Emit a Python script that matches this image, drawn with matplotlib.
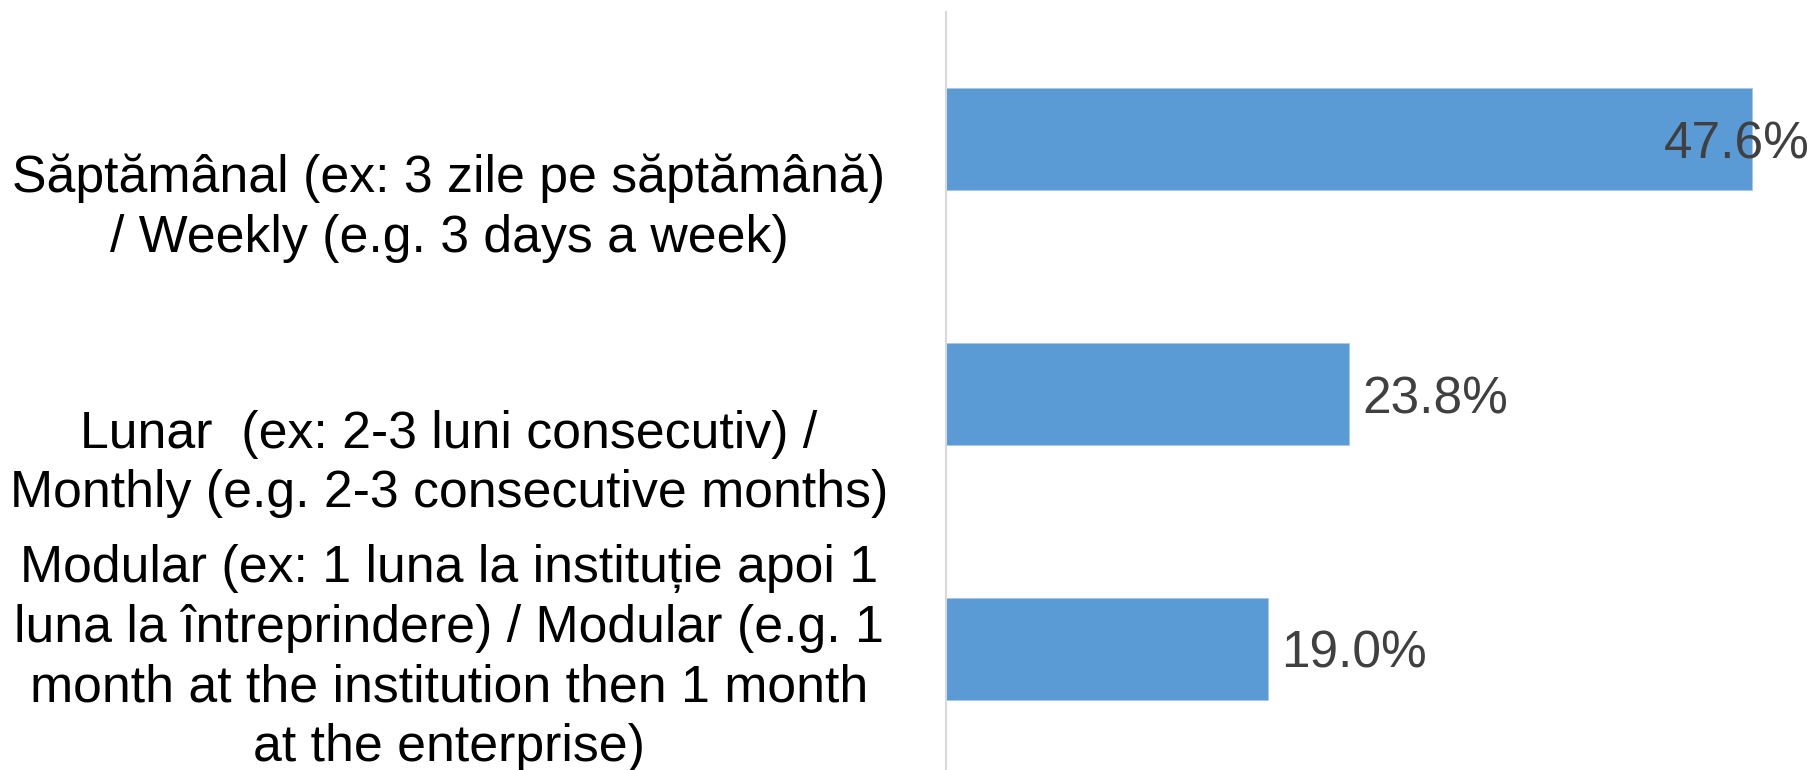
import matplotlib

matplotlib.use("Agg")
import matplotlib.pyplot as plt
import matplotlib.transforms as mtransforms

plt.rcParams["font.family"] = ["Liberation Sans", "DejaVu Sans"]

categories = [
    "Săptămânal (ex: 3 zile pe săptămână)\n/ Weekly (e.g. 3 days a week)",
    "Lunar  (ex: 2-3 luni consecutiv) /\nMonthly (e.g. 2-3 consecutive months)",
    "Modular (ex: 1 luna la instituție apoi 1\nluna la întreprindere) / Modular (e.g. 1\n"
    "month at the institution then 1 month\nat the enterprise)",
]
values = [47.6, 23.8, 19.0]

# label placement relative to the bar (category units); last one is pushed up to fit
label_shift = [0.27, 0.275, 0.036]

W, H, DPI = 1814, 770, 100
fig = plt.figure(figsize=(W / DPI, H / DPI), dpi=DPI)
ax = fig.add_axes([946 / W, -6 / H, 1 - 946 / W, 764 / H])

pos = list(range(len(values)))
ax.barh(pos, values, height=0.4, color="#5b9bd5", edgecolor="#a9c8ea", linewidth=0.6)
ax.set_ylim(2.5, -0.5)
ax.set_xlim(0, (W - 946) / 16.93)

for s in ["top", "right", "bottom"]:
    ax.spines[s].set_visible(False)
ax.spines["left"].set_color("#d9d9d9")
ax.spines["left"].set_linewidth(1.5)
ax.set_xticks([])
ax.set_yticks([])

# category labels, centred in the left margin
trans = mtransforms.blended_transform_factory(fig.transFigure, ax.transData)
for p, lab, sh in zip(pos, categories, label_shift):
    ax.text(449 / W, p + sh, lab, transform=trans, ha="center", va="center",
            multialignment="center", fontsize=37.3, color="black", linespacing=1.28,
            clip_on=False)

# value labels: after the bar, or tucked against the right edge if they'd overflow
fig.canvas.draw()
renderer = fig.canvas.get_renderer()
for p, v in zip(pos, values):
    t = ax.annotate(f"{v:.1f}%", (v, p), xytext=(10, 0), textcoords="offset points",
                    ha="left", va="center_baseline", fontsize=37, color="#404040",
                    annotation_clip=False)
    bb = t.get_window_extent(renderer)
    if bb.x1 > W - 4:
        t.remove()
        ax.text(1 - 4 / W, p, f"{v:.1f}%", transform=trans, ha="right",
                va="center_baseline", fontsize=37, color="#404040")

fig.savefig("out.png", dpi=DPI, facecolor="white")
